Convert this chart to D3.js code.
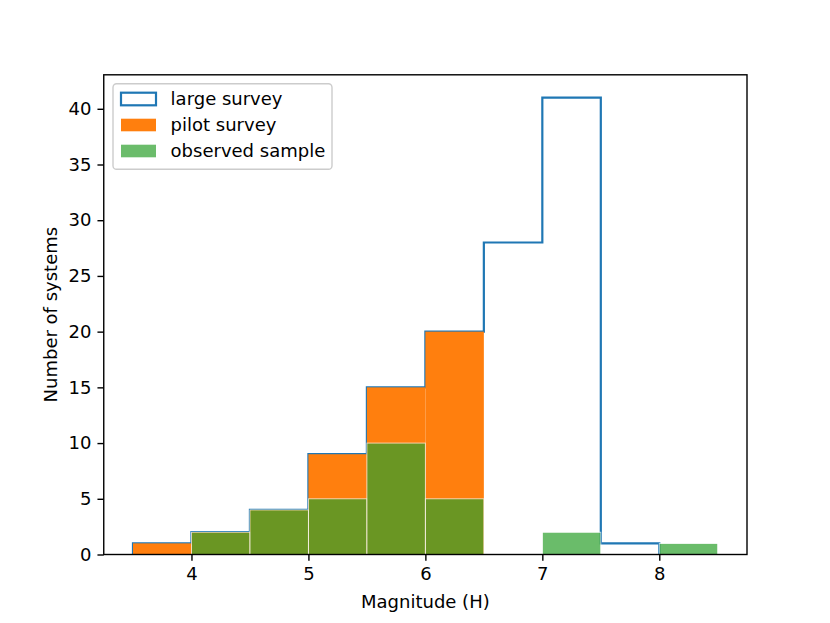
<!DOCTYPE html>
<html>
<head>
<meta charset="utf-8">
<script src="https://cdn.jsdelivr.net/npm/d3@7"></script>
<style>
  body { margin: 0; background: #fff; }
  text { font-family: "DejaVu Sans", sans-serif; }
</style>
</head>
<body>
<div id="chart"></div>
<script>
// histogram bins (magnitude H)
const binEdges = [3.5, 4, 4.5, 5, 5.5, 6, 6.5, 7, 7.5, 8, 8.5];
const largeSurvey = [1, 2, 4, 9, 15, 20, 28, 41, 1];
const pilotSurvey = [1, 2, 4, 9, 15, 20, 0, 0, 0, 0];
const observedSample = [0, 2, 4, 5, 10, 5, 0, 2, 0, 1];
const xTicks = [4, 5, 6, 7, 8];
const yTicks = [0, 5, 10, 15, 20, 25, 30, 35, 40];
const seriesNames = ["large survey", "pilot survey", "observed sample"];

let width = 830, height = 623;
let margin = { left: 103.75, right: 83, top: 74.8, bottom: 68.5 };

let svg = d3.select("#chart")
  .append("svg")
    .attr("width", width)
    .attr("height", height);

let x = d3.scaleLinear()
  .domain([3.25, 8.75])
  .range([margin.left, width - margin.right]);

let y = d3.scaleLinear()
  .domain([0, 43.05])
  .range([height - margin.bottom, margin.top]);

// large survey: step outline, drawn first
let stepPath = d3.path();
stepPath.moveTo(x(binEdges[0]), y(0));
largeSurvey.forEach((v, i) => {
  stepPath.lineTo(x(binEdges[i]), y(v));
  stepPath.lineTo(x(binEdges[i + 1]), y(v));
});
stepPath.lineTo(x(binEdges[largeSurvey.length]), y(0));

svg.append("path")
  .attr("d", stepPath.toString())
  .attr("fill", "none")
  .attr("stroke", "#1f77b4")
  .attr("stroke-width", 2.2)
  .attr("stroke-linejoin", "miter");

// pilot survey bars
svg.append("g")
  .selectAll("rect")
  .data(pilotSurvey.map((v, i) => ({ v, i })).filter(d => d.v > 0))
  .enter()
  .append("rect")
    .attr("x", d => x(binEdges[d.i]))
    .attr("width", d => x(binEdges[d.i + 1]) - x(binEdges[d.i]))
    .attr("y", d => y(d.v))
    .attr("height", d => y(0) - y(d.v))
    .attr("fill", "#ff7f0e");

// observed sample bars (semi-transparent, white edges)
svg.append("g")
  .selectAll("rect")
  .data(observedSample.map((v, i) => ({ v, i })).filter(d => d.v > 0))
  .enter()
  .append("rect")
    .attr("x", d => x(binEdges[d.i]))
    .attr("width", d => x(binEdges[d.i + 1]) - x(binEdges[d.i]))
    .attr("y", d => y(d.v))
    .attr("height", d => y(0) - y(d.v))
    .attr("fill", "#2ca02c")
    .attr("stroke", "#ffffff")
    .attr("stroke-width", 0.9)
    .attr("opacity", 0.7);

// axes
let xAxis = svg.append("g")
  .attr("transform", "translate(0," + y(0) + ")")
  .call(d3.axisBottom(x).tickValues(xTicks).tickFormat(d3.format("d")).tickSize(6.3).tickPadding(6));

let yAxis = svg.append("g")
  .attr("transform", "translate(" + margin.left + ",0)")
  .call(d3.axisLeft(y).tickValues(yTicks).tickFormat(d3.format("d")).tickSize(6.3).tickPadding(6));

[xAxis, yAxis].forEach(ax => {
  ax.select(".domain").remove();
  ax.selectAll("line").attr("stroke", "#000").attr("stroke-width", 1.4);
  ax.selectAll("text").attr("fill", "#000").style("font-size", "18px");
});

// frame
svg.append("rect")
  .attr("x", margin.left)
  .attr("y", margin.top)
  .attr("width", width - margin.right - margin.left)
  .attr("height", height - margin.bottom - margin.top)
  .attr("fill", "none")
  .attr("stroke", "#000")
  .attr("stroke-width", 1.4);

// axis labels
svg.append("text")
  .attr("x", (margin.left + width - margin.right) / 2)
  .attr("y", 608)
  .attr("text-anchor", "middle")
  .style("font-size", "18px")
  .text("Magnitude (H)");

svg.append("text")
  .attr("transform", "translate(57," + (margin.top + height - margin.bottom) / 2 + ") rotate(-90)")
  .attr("text-anchor", "middle")
  .style("font-size", "18px")
  .text("Number of systems");

// legend
let legend = svg.append("g");
legend.append("rect")
  .attr("x", 113)
  .attr("y", 83.8)
  .attr("width", 219)
  .attr("height", 85.5)
  .attr("rx", 3.6)
  .attr("fill", "#fff")
  .attr("fill-opacity", 0.8)
  .attr("stroke", "#cccccc")
  .attr("stroke-width", 1.4);

let rowY = [99, 125, 151];
seriesNames.forEach((name, i) => {
  let r = legend.append("rect")
    .attr("x", 121)
    .attr("y", rowY[i] - 6.3)
    .attr("width", 35)
    .attr("height", 12.6);
  if (i === 0) {
    r.attr("fill", "none").attr("stroke", "#1f77b4").attr("stroke-width", 2.2);
  } else if (i === 1) {
    r.attr("fill", "#ff7f0e");
  } else {
    r.attr("fill", "#2ca02c").attr("opacity", 0.7);
  }
  legend.append("text")
    .attr("x", 170.6)
    .attr("y", rowY[i])
    .attr("dy", "0.35em")
    .style("font-size", "18px")
    .text(name);
});
</script>
</body>
</html>
